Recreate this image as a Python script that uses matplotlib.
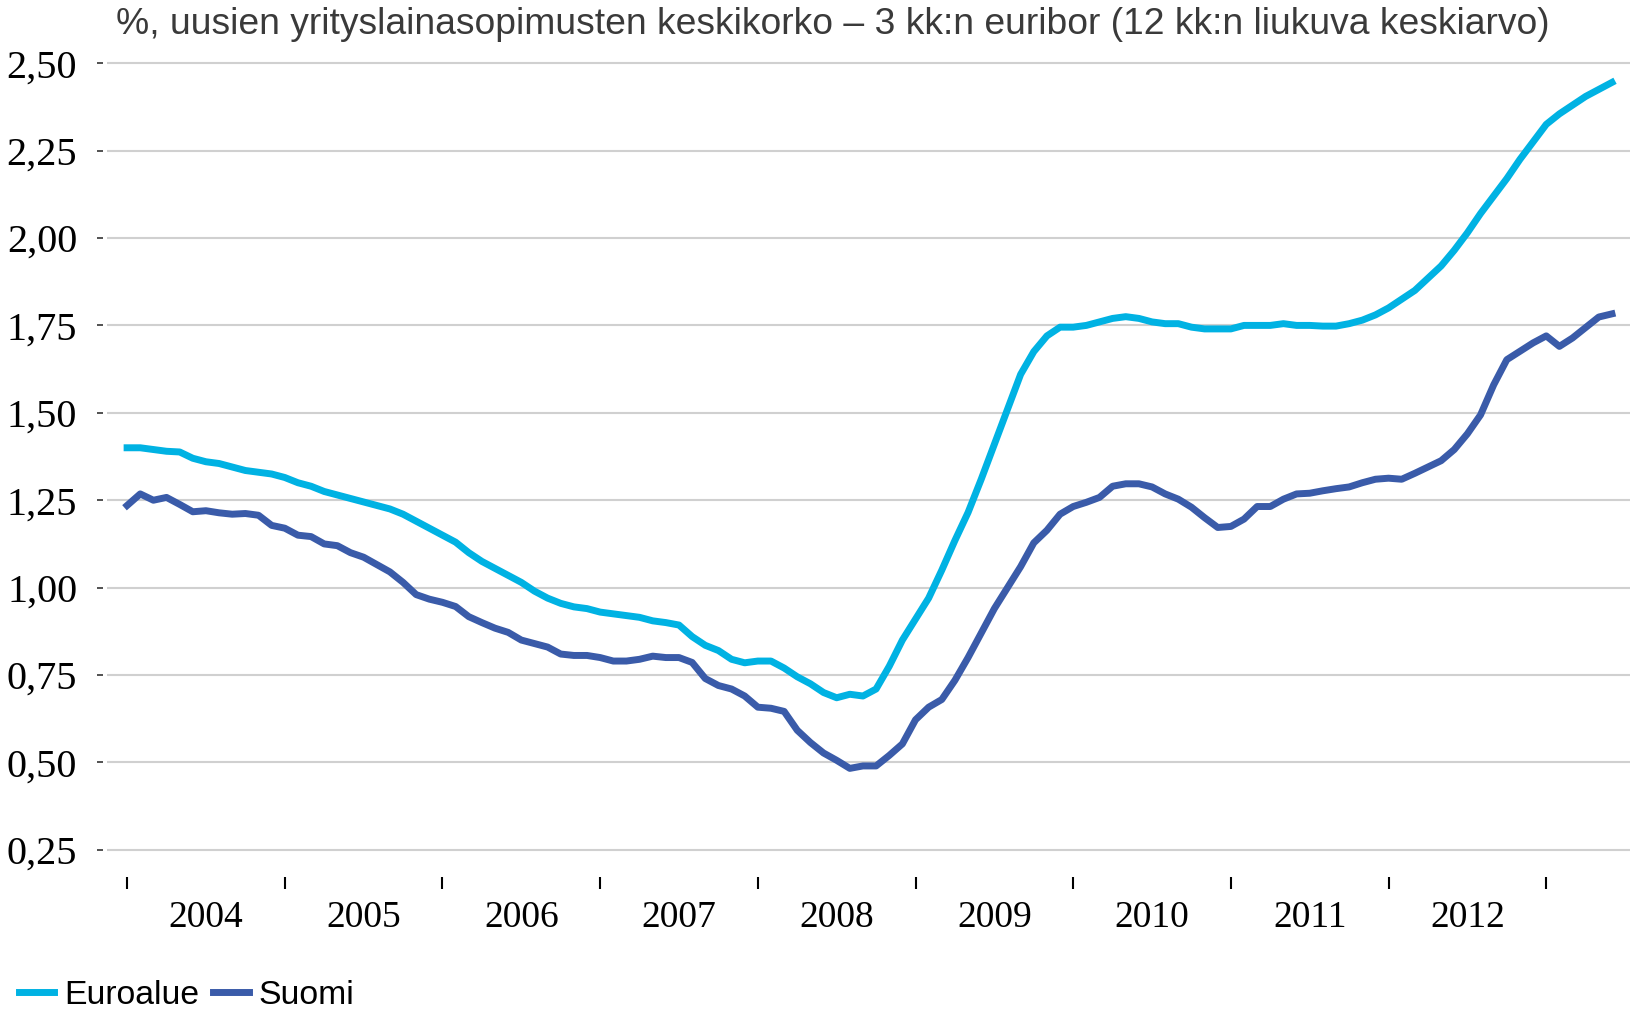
import matplotlib.pyplot as plt

title = "%, uusien yrityslainasopimusten keskikorko – 3 kk:n euribor (12 kk:n liukuva keskiarvo)"
years = ['2004', '2005', '2006', '2007', '2008', '2009', '2010', '2011', '2012']
ytick_vals = [0.25, 0.50, 0.75, 1.00, 1.25, 1.50, 1.75, 2.00, 2.25, 2.50]
ytick_labels = ['0,25', '0,50', '0,75', '1,00', '1,25', '1,50', '1,75', '2,00', '2,25', '2,50']

# kuukausittaiset arvot 1/2004 alkaen
euroalue = [1.40, 1.40, 1.395, 1.39, 1.388, 1.37, 1.36, 1.355, 1.345, 1.335, 1.33, 1.325,
            1.315, 1.30, 1.29, 1.275, 1.265, 1.255, 1.245, 1.235, 1.225, 1.21, 1.19, 1.17,
            1.15, 1.13, 1.10, 1.075, 1.055, 1.035, 1.015, 0.99, 0.97, 0.955, 0.945, 0.94,
            0.93, 0.925, 0.92, 0.915, 0.905, 0.90, 0.893, 0.86, 0.835, 0.82, 0.795, 0.785,
            0.79, 0.79, 0.77, 0.745, 0.725, 0.70, 0.685, 0.695, 0.69, 0.71, 0.775, 0.85,
            0.91, 0.97, 1.05, 1.135, 1.215, 1.31, 1.41, 1.51, 1.61, 1.675, 1.72, 1.745,
            1.745, 1.75, 1.76, 1.77, 1.775, 1.77, 1.76, 1.755, 1.755, 1.745, 1.74, 1.74,
            1.74, 1.75, 1.75, 1.75, 1.755, 1.75, 1.75, 1.748, 1.748, 1.755, 1.765, 1.78,
            1.80, 1.825, 1.85, 1.885, 1.92, 1.965, 2.015, 2.07, 2.12, 2.17, 2.225, 2.275,
            2.325, 2.355, 2.38, 2.405, 2.425, 2.445]
suomi = [1.235, 1.268, 1.25, 1.258, 1.238, 1.217, 1.22, 1.214, 1.21, 1.212, 1.207, 1.178,
         1.17, 1.15, 1.146, 1.125, 1.12, 1.10, 1.087, 1.066, 1.045, 1.015, 0.98, 0.967,
         0.958, 0.946, 0.917, 0.90, 0.884, 0.872, 0.85, 0.84, 0.83, 0.81, 0.806, 0.806,
         0.80, 0.79, 0.79, 0.795, 0.804, 0.80, 0.80, 0.786, 0.74, 0.72, 0.71, 0.69,
         0.658, 0.655, 0.646, 0.592, 0.557, 0.527, 0.506, 0.483, 0.49, 0.49, 0.52, 0.553,
         0.622, 0.658, 0.68, 0.735, 0.80, 0.87, 0.94, 1.00, 1.06, 1.128, 1.164, 1.21,
         1.232, 1.244, 1.258, 1.29, 1.297, 1.297, 1.288, 1.268, 1.253, 1.23, 1.20, 1.172,
         1.175, 1.196, 1.232, 1.232, 1.253, 1.268, 1.27, 1.277, 1.283, 1.288, 1.30, 1.31,
         1.313, 1.31, 1.327, 1.345, 1.363, 1.395, 1.44, 1.494, 1.58, 1.652, 1.676, 1.70,
         1.72, 1.69, 1.714, 1.744, 1.774, 1.783]

W, H = 1631, 1010
fig = plt.figure(figsize=(W / 100, H / 100), dpi=100)
ax = fig.add_axes([107 / W, (H - 889) / H, 1 - 107 / W, 832.8 / H])

months = list(range(len(euroalue)))
ax.plot(months, euroalue, color='#00B2E3', lw=5.0, solid_capstyle='projecting', label='Euroalue')
ax.plot(months, suomi, color='#3A5BA9', lw=5.0, solid_capstyle='projecting', label='Suomi')

ax.set_xlim(-1.53, 114.45)
ax.set_ylim(0.138, 2.52)

for s in ['top', 'right', 'bottom']:
    ax.spines[s].set_visible(False)
ax.spines['left'].set_visible(False)
ax.spines['left'].set_position(('outward', 3))

ax.set_yticks(ytick_vals)
ax.set_yticklabels(ytick_labels, family='Liberation Serif', fontsize=29)
ax.tick_params(axis='y', direction='out', length=4.5, width=1.2, color='#333333', pad=14)
ax.yaxis.grid(True, color='#D0D0D0', lw=1.5)
ax.set_axisbelow(True)

ax.set_xticks([12 * k for k in range(len(years) + 1)])
ax.set_xticklabels([])
ax.set_xticks([12 * k + 6 for k in range(len(years))], minor=True)
ax.set_xticklabels(years, minor=True, family='Liberation Serif', fontsize=27)
ax.tick_params(axis='x', which='major', direction='in', length=8.6, width=1.5, color='black')
ax.tick_params(axis='x', which='minor', length=0, pad=8)

fig.text(116 / W, 1 - 25 / H, title, ha='left', va='center', fontsize=26.8,
         family='Liberation Sans', color='#3A3A3A')

fig.legend(loc='lower left', bbox_to_anchor=(19 / W, -1 / H), ncol=2, frameon=False,
           prop={'family': 'Liberation Sans', 'size': 24.3}, handlelength=1.05,
           handletextpad=0.3, columnspacing=0.4, borderaxespad=0, borderpad=0)

fig.savefig('out.png', dpi=100)
